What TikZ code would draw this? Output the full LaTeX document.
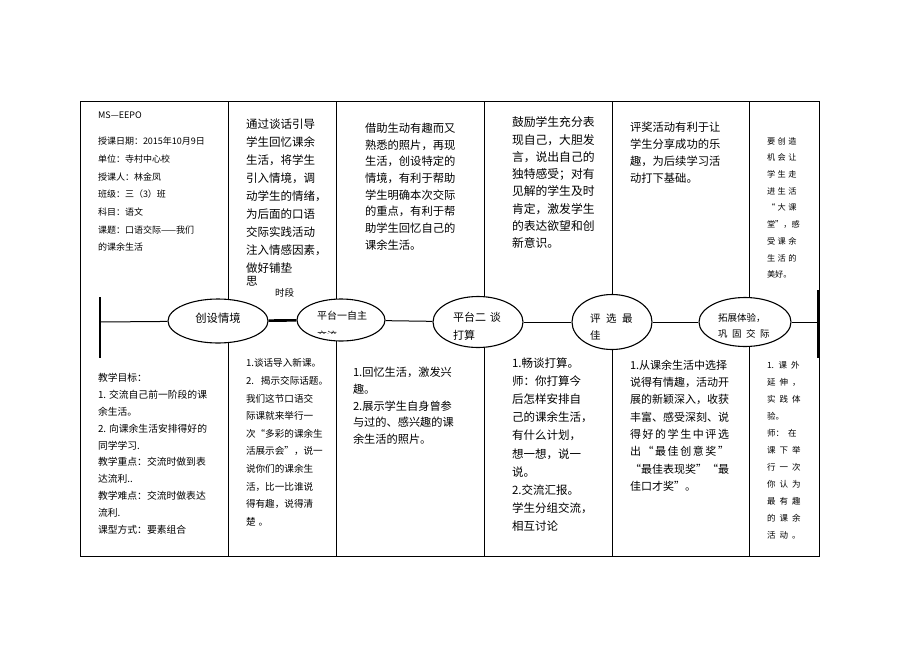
\documentclass[tikz,border=0pt]{standalone}
\usepackage{fontspec}
\setmainfont{Noto Sans CJK SC}
\usetikzlibrary{shapes.geometric}
\tikzset{
  frame/.style={line width=1pt, black},
  bar/.style={line width=2.6pt},
  link/.style={line width=1pt},
  thicklink/.style={line width=2.6pt},
  stage/.style={ellipse, draw, line width=1.1pt, fill=white, inner sep=0pt},
  para/.style 2 args={anchor=north west, inner sep=0pt, outer sep=0pt, align=left, font={\fontsize{#1}{#2}\selectfont}},
  wpara/.style n args={3}{anchor=north west, inner sep=0pt, outer sep=0pt, align=left, font={\fontsize{#1}{#2}\selectfont\spaceskip #3\relax}},
  lab/.style={anchor=west, inner sep=0pt, outer sep=0pt, font={\fontsize{#1}{#1}\selectfont}},
}
\begin{document}
\begin{tikzpicture}[x=1pt,y=-1pt]
\fill[white] (0,0) rectangle (920,651);
\useasboundingbox (0,0) rectangle (920,651);

% table frame and column dividers
\draw[frame] (80,101) rectangle (819,556);
\foreach \xx in {228,336,484,612,749} \draw[frame] (\xx,101) -- (\xx,556);

% end bars of the time line
\draw[bar] (100,297) -- (100,358);
\draw[bar] (818,290) -- (818,358);
\coordinate (lend) at (100,322);
\coordinate (rend) at (818,322);

% stages
\node[stage, minimum width=100pt, minimum height=44pt] (e1) at (218,321) {};
\node[stage, minimum width=88pt, minimum height=42pt] (e2) at (341,320) {};
\node[stage, minimum width=90pt, minimum height=51pt] (e3) at (478,322) {};
\node[stage, minimum width=80pt, minimum height=55pt] (e4) at (612,322) {};
\node[stage, minimum width=92pt, minimum height=49pt] (e5) at (745,322) {};

\draw[link] (lend) -- (e1);
\draw[thicklink] (e1) -- (e2);
\draw[link] (e2) -- (e3);
\draw[link] (e3) -- (e4);
\draw[link] (e4) -- (e5);
\draw[link] (e5) -- (rend);

% stage labels
\node[lab=11.3, anchor=center] (t1) at (218,318) {创设情境};
\node[lab=10] (t2) at (317,316) {平台一自主};
\begin{scope}
\clip (300,300) rectangle (385,333);
\node[lab=10] (t2b) at (317,335.5) {交流};
\end{scope}
\node[para={11}{18}] (t3) at (453,312) {平台二\hspace{4pt}谈\\打算};
\node[para={10.5}{17.5}] (t4) at (590,313.3) {评\hspace{5.5pt}选\hspace{5.5pt}最\\佳};
\node[para={9.5}{16}] (t5) at (718,313.7) {拓展体验，\\巩\hspace{4.5pt}固\hspace{4.5pt}交\hspace{4.5pt}际};

% left column
\node[lab=9] (ms) at (98,115) {MS—EEPO};
\node[para={9}{17.7}] (info) at (98,137) {授课日期：2015年10月9日\\单位：寺村中心校\\授课人：林金凤\\班级：三（3）班\\科目：语文\\课题：口语交际——我们\\的课余生活};
\node[para={9.8}{16.8}] (goal) at (98,373.6) {教学目标：\\1. 交流自己前一阶段的课\\余生活。\\2. 向课余生活安排得好的\\同学学习.\\教学重点：交流时做到表\\达流利..\\教学难点：交流时做表达\\流利.\\课型方式：要素组合};

% upper cells
\node[para={11.5}{18}] (u2) at (246,118.8) {通过谈话引导\\学生回忆课余\\生活，将学生\\引入情境，调\\动学生的情绪，\\为后面的口语\\交际实践活动\\注入情感因素，\\做好铺垫};
\node[lab=11.5] (si) at (246,281) {思};
\node[lab=9.5] (sd) at (275,293) {时段};
\node[para={11.3}{16.7}] (u3) at (365,122.9) {借助生动有趣而又\\熟悉的照片，再现\\生活，创设特定的\\情境，有利于帮助\\学生明确本次交际\\的重点，有利于帮\\助学生回忆自己的\\课余生活。};
\node[para={11.8}{17.3}] (u4) at (512,116.7) {鼓励学生充分表\\现自己，大胆发\\言，说出自己的\\独特感受；对有\\见解的学生及时\\肯定，激发学生\\的表达欲望和创\\新意识。};
\node[para={11.3}{16.9}] (u5) at (630,121.9) {评奖活动有利于让\\学生分享成功的乐\\趣，为后续学习活\\动打下基础。};
\node[wpara={8.2}{16.7}{2.5pt}] (u6) at (767,137.3) {要 创 造\\机 会 让\\学 生 走\\进 生 活\\“ 大 课\\堂”，感\\受 课 余\\生 活 的\\美好。};

% lower cells
\node[para={9.6}{17.6}] (d2) at (246,358.7) {1.谈话导入新课。\\2.\hspace{7pt}揭示交际话题。\\我们这节口语交\\际课就来举行一\\次“多彩的课余生\\活展示会”，说一\\说你们的课余生\\活，比一比谁说\\得有趣，说得清\\楚\hspace{3pt}。};
\node[para={11.2}{16.8}] (d3) at (353,367) {1.回忆生活，激发兴\\趣。\\2.展示学生自身曾参\\与过的、感兴趣的课\\余生活的照片。};
\node[para={11.5}{18.1}] (d4) at (512,357.8) {1.畅谈打算。\\师：你打算今\\后怎样安排自\\己的课余生活，\\有什么计划，\\想一想，说一\\说。\\2.交流汇报。\\学生分组交流，\\相互讨论};
\node[para={11}{17.3}] (d5) at (630,360) {1.从课余生活中选择\\说得有情趣，活动开\\展的新颖深入，收获\\丰富、感受深刻、说\\\makebox[99pt][s]{得\hfill 好\hfill 的\hfill 学\hfill 生\hfill 中\hfill 评\hfill 选}\\\makebox[99pt][s]{出\hfill “\hfill 最\hfill 佳\hfill 创\hfill 意\hfill 奖\hfill ”}\\\makebox[99pt][s]{“\hfill 最\hfill 佳\hfill 表\hfill 现\hfill 奖\hfill ”\hfill “\hfill 最}\\佳口才奖”。};
\node[wpara={8.5}{17}{4pt}] (d6) at (767,361.2) {1. 课 外\\延 伸 ，\\实 践 体\\验。\\师： 在\\课 下 举\\行 一 次\\你 认 为\\最 有 趣\\的 课 余\\活 动 。};
\end{tikzpicture}
\end{document}
